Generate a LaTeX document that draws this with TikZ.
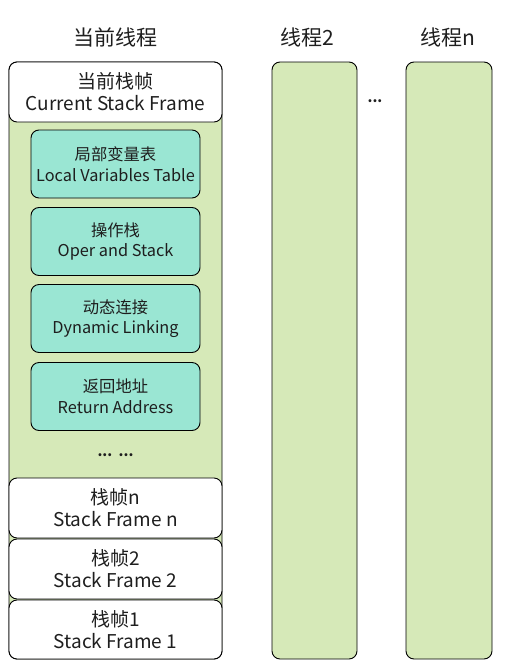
\documentclass[tikz,border=0pt]{standalone}
\usepackage{fontspec}
\setmainfont{Noto Sans CJK SC}
\definecolor{colgreen}{RGB}{214,233,184}
\definecolor{colteal}{RGB}{154,230,211}
\definecolor{txt}{RGB}{30,30,30}
\begin{document}
\begin{tikzpicture}[x=1pt,y=-1pt,
  every node/.style={text=txt, inner sep=0pt, outer sep=0pt},
  column/.style={draw=black, line width=0.9pt, fill=colgreen, rounded corners=8pt, rectangle, anchor=north west},
  framebox/.style={draw=black, line width=0.9pt, fill=white, rounded corners=8pt, rectangle, align=center, font=\fontsize{19}{22}\selectfont},
  itembox/.style={draw=black, line width=0.9pt, fill=colteal, rounded corners=8pt, rectangle, align=center, font=\fontsize{16.3}{20.5}\selectfont, minimum width=169pt, minimum height=68pt},
  title/.style={font=\fontsize{21}{24}\selectfont},
  dots/.style={font=\fontsize{14}{16}\selectfont\bfseries}]
\useasboundingbox (0,0) rectangle (510,670);
% columns
\node[column, minimum width=213pt, minimum height=597pt] (main) at (9,62) {};
\node[column, minimum width=85pt, minimum height=597pt] (t2) at (272,62) {};
\node[column, minimum width=86pt, minimum height=597pt] (tn) at (406,62) {};
% titles
\node[title] (h1) at (115.5,37) {当前线程};
\node[title] (h2) at (307,37) {线程2};
\node[title] (h3) at (448,37) {线程n};
\node[dots] (mid) at (375,101) {...};
% current frame
\node[framebox, minimum width=213pt, minimum height=60pt] (cur) at (115.5,92) {当前栈帧\\Current Stack Frame};
% items
\node[itembox] (lv) at (115.5,164) {局部变量表\\Local Variables Table};
\node[itembox] (os) at (115.5,241.5) {操作栈\\Oper and Stack};
\node[itembox] (dl) at (115.5,318.5) {动态连接\\Dynamic Linking};
\node[itembox] (ra) at (115.5,396.5) {返回地址\\Return Address};
\node[dots] (more) at (115.5,455) {...\ \ ...};
% stack frames
\node[framebox, minimum width=213pt, minimum height=60pt] (sfn) at (115.5,508) {栈帧n\\Stack Frame n};
\node[framebox, minimum width=213pt, minimum height=60pt] (sf2) at (115.5,569) {栈帧2\\Stack Frame 2};
\node[framebox, minimum width=213pt, minimum height=59pt] (sf1) at (115.5,629.5) {栈帧1\\Stack Frame 1};
\end{tikzpicture}
\end{document}
